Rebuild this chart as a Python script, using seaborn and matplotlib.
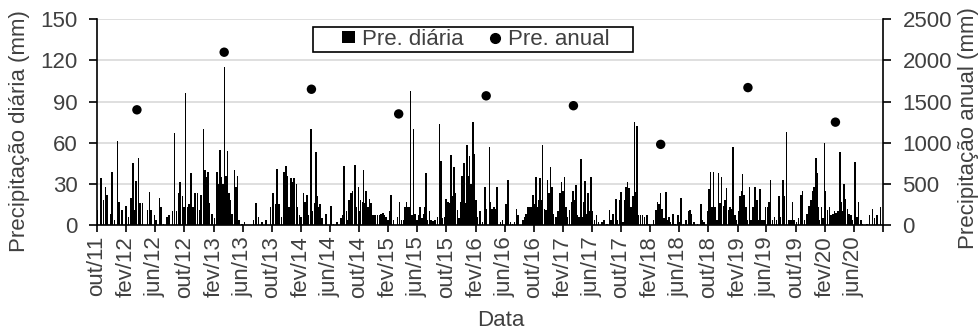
import matplotlib
matplotlib.use("Agg")
import matplotlib.pyplot as plt
from matplotlib.lines import Line2D
from matplotlib.patches import Patch, Rectangle
import seaborn as sns
import pandas as pd

# ---------------- data ----------------
# daily precipitation (mm), one list per hydrological year (Oct-Sep)
ano_2011_12 = [("2011-10-02", 11), ("2011-10-18", 34), ("2011-10-29", 18), ("2011-11-05", 28), ("2011-11-12", 22),
               ("2011-11-26", 8), ("2011-12-03", 39), ("2011-12-14", 4), ("2011-12-26", 61), ("2012-01-02", 17),
               ("2012-01-14", 11), ("2012-01-30", 14), ("2012-02-10", 6), ("2012-02-20", 20), ("2012-02-29", 45),
               ("2012-03-06", 11), ("2012-03-12", 32), ("2012-03-22", 49), ("2012-03-30", 16), ("2012-04-09", 16),
               ("2012-04-30", 11), ("2012-05-08", 24), ("2012-05-14", 11), ("2012-05-29", 7), ("2012-06-04", 4),
               ("2012-06-19", 20), ("2012-06-25", 13), ("2012-07-06", 1), ("2012-07-20", 6), ("2012-07-29", 7),
               ("2012-08-12", 10), ("2012-08-21", 67), ("2012-08-29", 10), ("2012-09-07", 23), ("2012-09-13", 31),
               ("2012-09-23", 21), ("2012-09-29", 13)]
ano_2012_13 = [("2012-10-06", 96), ("2012-10-13", 13), ("2012-10-21", 15), ("2012-10-29", 38), ("2012-11-05", 13),
               ("2012-11-15", 23), ("2012-11-24", 23), ("2012-12-02", 11), ("2012-12-10", 22), ("2012-12-20", 70),
               ("2012-12-26", 40), ("2012-12-31", 35), ("2013-01-07", 39), ("2013-01-14", 16), ("2013-01-24", 8),
               ("2013-02-03", 5), ("2013-02-14", 39), ("2013-02-21", 30), ("2013-02-26", 55), ("2013-03-04", 35),
               ("2013-03-11", 30), ("2013-03-18", 115), ("2013-03-23", 36), ("2013-03-30", 54), ("2013-04-05", 23),
               ("2013-04-12", 18), ("2013-04-18", 8), ("2013-04-29", 40), ("2013-05-04", 28), ("2013-05-11", 36),
               ("2013-05-18", 4), ("2013-05-29", 1), ("2013-06-09", 2), ("2013-07-17", 4), ("2013-07-28", 16),
               ("2013-08-07", 6), ("2013-08-21", 2), ("2013-09-07", 4), ("2013-09-25", 13)]
ano_2013_14 = [("2013-10-06", 23), ("2013-10-16", 15), ("2013-10-24", 41), ("2013-11-01", 15), ("2013-11-10", 6),
               ("2013-11-21", 39), ("2013-11-29", 43), ("2013-12-06", 36), ("2013-12-13", 13), ("2013-12-20", 34),
               ("2013-12-27", 31), ("2014-01-03", 34), ("2014-01-12", 30), ("2014-01-17", 13), ("2014-01-25", 7),
               ("2014-02-01", 6), ("2014-02-11", 23), ("2014-02-18", 17), ("2014-02-25", 22), ("2014-03-04", 7),
               ("2014-03-14", 70), ("2014-03-21", 10), ("2014-03-28", 16), ("2014-04-05", 53), ("2014-04-11", 21),
               ("2014-04-16", 13), ("2014-04-22", 15), ("2014-04-30", 5), ("2014-05-16", 8), ("2014-06-07", 14),
               ("2014-06-17", 1), ("2014-07-01", 2), ("2014-07-17", 5), ("2014-07-24", 7), ("2014-07-31", 43),
               ("2014-08-09", 10), ("2014-08-14", 4), ("2014-08-21", 18), ("2014-08-28", 23), ("2014-09-04", 25),
               ("2014-09-14", 44), ("2014-09-20", 13), ("2014-09-28", 28)]
ano_2014_15 = [("2014-10-02", 10), ("2014-10-08", 18), ("2014-10-15", 17), ("2014-10-20", 40), ("2014-10-26", 16),
               ("2014-10-31", 25), ("2014-11-07", 13), ("2014-11-13", 19), ("2014-11-21", 16), ("2014-11-28", 7),
               ("2014-12-08", 7), ("2014-12-18", 7), ("2014-12-26", 7), ("2015-01-02", 8), ("2015-01-09", 9),
               ("2015-01-16", 7), ("2015-01-23", 6), ("2015-01-30", 4), ("2015-02-06", 10), ("2015-02-13", 22),
               ("2015-02-23", 4), ("2015-03-11", 6), ("2015-03-20", 17), ("2015-03-28", 4), ("2015-04-05", 4),
               ("2015-04-11", 13), ("2015-04-17", 17), ("2015-04-22", 13), ("2015-04-28", 13), ("2015-05-05", 98),
               ("2015-05-10", 7), ("2015-05-17", 70), ("2015-05-23", 8), ("2015-05-31", 4), ("2015-06-09", 7),
               ("2015-06-14", 13), ("2015-06-21", 5), ("2015-06-28", 8), ("2015-07-02", 13), ("2015-07-08", 38),
               ("2015-07-15", 4), ("2015-07-23", 10), ("2015-07-30", 4), ("2015-08-06", 3), ("2015-08-16", 4),
               ("2015-08-26", 6), ("2015-09-03", 74), ("2015-09-09", 47), ("2015-09-16", 5), ("2015-09-24", 6)]
ano_2015_16 = [("2015-10-01", 19), ("2015-10-08", 17), ("2015-10-15", 16), ("2015-10-20", 51), ("2015-10-27", 21),
               ("2015-11-03", 42), ("2015-11-09", 23), ("2015-11-17", 11), ("2015-11-24", 5), ("2015-12-01", 17),
               ("2015-12-07", 36), ("2015-12-14", 45), ("2015-12-21", 16), ("2015-12-26", 58), ("2016-01-01", 36),
               ("2016-01-06", 50), ("2016-01-13", 30), ("2016-01-20", 75), ("2016-01-26", 52), ("2016-02-02", 18),
               ("2016-02-09", 6), ("2016-02-20", 10), ("2016-03-01", 2), ("2016-03-12", 28), ("2016-03-18", 12),
               ("2016-03-29", 57), ("2016-04-03", 17), ("2016-04-10", 12), ("2016-04-17", 13), ("2016-04-23", 12),
               ("2016-04-30", 28), ("2016-05-14", 2), ("2016-05-23", 4), ("2016-06-08", 15), ("2016-06-15", 33),
               ("2016-06-25", 2), ("2016-07-04", 1), ("2016-07-13", 2), ("2016-07-20", 12), ("2016-07-27", 7),
               ("2016-08-17", 4), ("2016-08-23", 6), ("2016-08-30", 8), ("2016-09-06", 13), ("2016-09-13", 13),
               ("2016-09-20", 13), ("2016-09-27", 22)]
ano_2016_17 = [("2016-10-04", 15), ("2016-10-10", 35), ("2016-10-15", 13), ("2016-10-21", 18), ("2016-10-27", 34),
               ("2016-11-01", 18), ("2016-11-07", 58), ("2016-11-15", 12), ("2016-11-22", 11), ("2016-11-28", 33),
               ("2016-12-03", 23), ("2016-12-10", 42), ("2016-12-16", 28), ("2016-12-23", 8), ("2017-01-02", 6),
               ("2017-01-10", 10), ("2017-01-18", 23), ("2017-01-25", 31), ("2017-02-01", 25), ("2017-02-07", 35),
               ("2017-02-12", 13), ("2017-02-19", 6), ("2017-02-28", 11), ("2017-03-07", 17), ("2017-03-14", 25),
               ("2017-03-21", 18), ("2017-03-26", 29), ("2017-04-01", 7), ("2017-04-09", 6), ("2017-04-16", 48),
               ("2017-04-23", 6), ("2017-04-29", 17), ("2017-05-04", 32), ("2017-05-08", 8), ("2017-05-15", 23),
               ("2017-05-22", 10), ("2017-05-29", 35), ("2017-06-04", 10), ("2017-06-12", 4), ("2017-06-21", 7),
               ("2017-06-29", 2), ("2017-07-13", 2), ("2017-07-21", 4), ("2017-08-03", 1), ("2017-08-13", 11),
               ("2017-08-21", 4), ("2017-08-28", 8), ("2017-09-09", 19), ("2017-09-16", 4), ("2017-09-25", 18)]
ano_2017_18 = [("2017-10-02", 24), ("2017-10-09", 2), ("2017-10-16", 18), ("2017-10-23", 28), ("2017-10-28", 31),
               ("2017-11-04", 27), ("2017-11-11", 13), ("2017-11-15", 6), ("2017-11-21", 21), ("2017-11-27", 75),
               ("2017-12-01", 24), ("2017-12-08", 72), ("2017-12-13", 7), ("2017-12-22", 7), ("2017-12-30", 7),
               ("2018-01-07", 6), ("2018-01-17", 7), ("2018-01-27", 1), ("2018-02-14", 4), ("2018-02-24", 11),
               ("2018-03-03", 17), ("2018-03-08", 15), ("2018-03-15", 23), ("2018-03-22", 12), ("2018-03-31", 5),
               ("2018-04-07", 24), ("2018-04-12", 4), ("2018-04-19", 6), ("2018-04-27", 2), ("2018-05-06", 8),
               ("2018-05-16", 1), ("2018-05-27", 7), ("2018-06-03", 2), ("2018-06-10", 20), ("2018-06-19", 1),
               ("2018-06-29", 4), ("2018-07-10", 10), ("2018-07-17", 11), ("2018-07-23", 8), ("2018-08-03", 2),
               ("2018-08-17", 1), ("2018-08-31", 15), ("2018-09-07", 4), ("2018-09-14", 2), ("2018-09-27", 10)]
ano_2018_19 = [("2018-10-04", 26), ("2018-10-10", 39), ("2018-10-17", 13), ("2018-10-23", 39), ("2018-10-30", 13),
               ("2018-11-06", 4), ("2018-11-13", 38), ("2018-11-19", 16), ("2018-11-26", 35), ("2018-12-03", 14),
               ("2018-12-10", 18), ("2018-12-17", 27), ("2018-12-24", 11), ("2018-12-30", 13), ("2019-01-06", 12),
               ("2019-01-13", 57), ("2019-01-21", 7), ("2019-01-28", 4), ("2019-02-04", 10), ("2019-02-11", 21),
               ("2019-02-17", 25), ("2019-02-22", 37), ("2019-02-28", 22), ("2019-03-07", 13), ("2019-03-14", 4),
               ("2019-03-22", 28), ("2019-03-29", 4), ("2019-04-06", 13), ("2019-04-15", 28), ("2019-04-22", 18),
               ("2019-04-27", 4), ("2019-05-06", 26), ("2019-05-13", 4), ("2019-05-22", 4), ("2019-05-29", 13),
               ("2019-06-05", 13), ("2019-06-12", 17), ("2019-06-19", 33), ("2019-06-26", 4), ("2019-07-05", 6),
               ("2019-07-13", 4), ("2019-07-23", 21), ("2019-07-30", 6), ("2019-08-09", 33), ("2019-08-16", 21),
               ("2019-08-25", 68), ("2019-09-04", 4), ("2019-09-11", 4), ("2019-09-19", 17), ("2019-09-25", 4)]
ano_2019_20 = [("2019-10-05", 2), ("2019-10-13", 5), ("2019-10-23", 22), ("2019-10-30", 25), ("2019-11-07", 4),
               ("2019-11-17", 8), ("2019-11-27", 14), ("2019-12-04", 18), ("2019-12-11", 25), ("2019-12-18", 28),
               ("2019-12-25", 49), ("2019-12-30", 38), ("2020-01-05", 13), ("2020-01-10", 4), ("2020-01-17", 13),
               ("2020-01-23", 5), ("2020-01-30", 60), ("2020-02-04", 25), ("2020-02-11", 11), ("2020-02-20", 13),
               ("2020-02-27", 7), ("2020-03-05", 8), ("2020-03-12", 10), ("2020-03-19", 9), ("2020-03-26", 10),
               ("2020-04-03", 53), ("2020-04-10", 17), ("2020-04-17", 10), ("2020-04-22", 30), ("2020-04-28", 19),
               ("2020-05-05", 12), ("2020-05-12", 8), ("2020-05-19", 7), ("2020-05-26", 4), ("2020-06-06", 46),
               ("2020-06-14", 6), ("2020-06-20", 17), ("2020-06-30", 4), ("2020-07-07", 1), ("2020-07-25", 1),
               ("2020-08-06", 7), ("2020-08-18", 12), ("2020-08-27", 5), ("2020-09-07", 7), ("2020-09-21", 13)]

# annual precipitation (mm)
datas_anuais = ["2012-03-16", "2013-03-16", "2014-03-16", "2015-03-16", "2016-03-16",
                "2017-03-16", "2018-03-16", "2019-03-16", "2020-03-16"]
pre_anual = [1400, 2100, 1650, 1350, 1570, 1450, 980, 1670, 1250]

# axis / tick labels
meses_pt = ["jan", "fev", "mar", "abr", "mai", "jun", "jul", "ago", "set", "out", "nov", "dez"]
inicio, fim = "2011-10-01", "2020-10-01"
yticks_diaria = [0, 30, 60, 90, 120, 150]
yticks_anual = [0, 500, 1000, 1500, 2000, 2500]

# ---------------- build tables ----------------
anos = [ano_2011_12, ano_2012_13, ano_2013_14, ano_2014_15, ano_2015_16,
        ano_2016_17, ano_2017_18, ano_2018_19, ano_2019_20]
diaria = pd.DataFrame([r for a in anos for r in a], columns=["data", "pre"])
diaria["data"] = pd.to_datetime(diaria["data"])
anual = pd.DataFrame({"data": pd.to_datetime(datas_anuais), "pre": pre_anual})

# ---------------- style ----------------
sns.set_style("white")
plt.rcParams["font.family"] = ["Liberation Sans", "DejaVu Sans"]
txt = "#404040"
fs = 16
fs_tick = 16
W, H = 980, 331

fig = plt.figure(figsize=(9.8, 3.31), dpi=100)
ax = fig.add_axes([97 / W, 1 - 225 / H, (883 - 97) / W, (225 - 19.3) / H])
ax2 = ax.twinx()

ax.set_axisbelow(True)
ax.yaxis.grid(True, color="#d9d9d9", linewidth=1.2)
ax.bar(diaria["data"], diaria["pre"], width=6.5, color="black", linewidth=0, antialiased=False, zorder=2)

sns.scatterplot(data=anual, x="data", y="pre", ax=ax2, color="black", s=46, edgecolor="none", zorder=3, legend=False)

x0, x1 = pd.Timestamp(inicio), pd.Timestamp(fim)
ax.set_xlim(x0, x1)
ax.set_ylim(0, 150)
ax2.set_ylim(0, 2500)
ax.set_yticks(yticks_diaria)
ax2.set_yticks(yticks_anual)

ticks = pd.date_range(inicio, fim, freq="4MS")
labels = [f"{meses_pt[t.month - 1]}/{t.year % 100:02d}" for t in ticks]
labels[-1] = ""
ax.set_xticks(ticks)
ax.set_xticklabels(labels, rotation=90)

for a in (ax, ax2):
    for s in a.spines.values():
        s.set_visible(False)
ax.spines["left"].set_visible(True)
ax.spines["bottom"].set_visible(True)
ax2.spines["right"].set_visible(True)
for s in (ax.spines["left"], ax.spines["bottom"], ax2.spines["right"]):
    s.set_color("black")
    s.set_linewidth(1.2)

ax.tick_params(axis="y", direction="out", length=6, width=1.2, color="black",
               labelsize=fs_tick, labelcolor=txt, pad=8, left=True)
ax.tick_params(axis="x", direction="out", length=5, width=1.2, color="black",
               labelsize=fs_tick, labelcolor=txt, pad=3, bottom=True)
ax2.tick_params(axis="y", direction="out", length=6, width=1.2, color="black",
                labelsize=fs_tick, labelcolor=txt, pad=8, right=True)

ax.set_xlabel("Data", fontsize=fs, color=txt)
ax.set_ylabel("Precipitação diária (mm)", fontsize=fs, color=txt)
ax2.set_ylabel("Precipitação anual (mm)", fontsize=fs, color=txt)
ax2.set_xlabel("")
ax.xaxis.label.set_va("center")
ax.xaxis.set_label_coords((501 - 97) / 786, (225 - 321) / 205.7)
for lab in (ax.yaxis.label, ax2.yaxis.label):
    lab.set_va("center")
    lab.set_ha("center")
ax.yaxis.set_label_coords((20 - 97) / 786, (225 - 131) / 205.7)
ax2.yaxis.set_label_coords((968.5 - 97) / 786, (225 - 128) / 205.7)

handles = [Patch(facecolor="black", edgecolor="none", label="Pre. diária"),
           Line2D([], [], marker="o", linestyle="none", color="black", markersize=7, label="Pre. anual")]
leg = fig.legend(handles=handles, loc="center", bbox_to_anchor=(476 / W, 1 - 39.5 / H),
                 ncol=2, fontsize=fs, frameon=False, handlelength=0.6, handleheight=0.45,
                 handletextpad=0.3, columnspacing=1.1, borderpad=0.1, labelcolor=txt)
fig.add_artist(Rectangle((313 / W, 1 - 52 / H), 320 / W, 25 / H, transform=fig.transFigure,
                         fill=False, edgecolor="black", linewidth=1.2, zorder=5))

fig.savefig("out.png", dpi=100, facecolor="white")
